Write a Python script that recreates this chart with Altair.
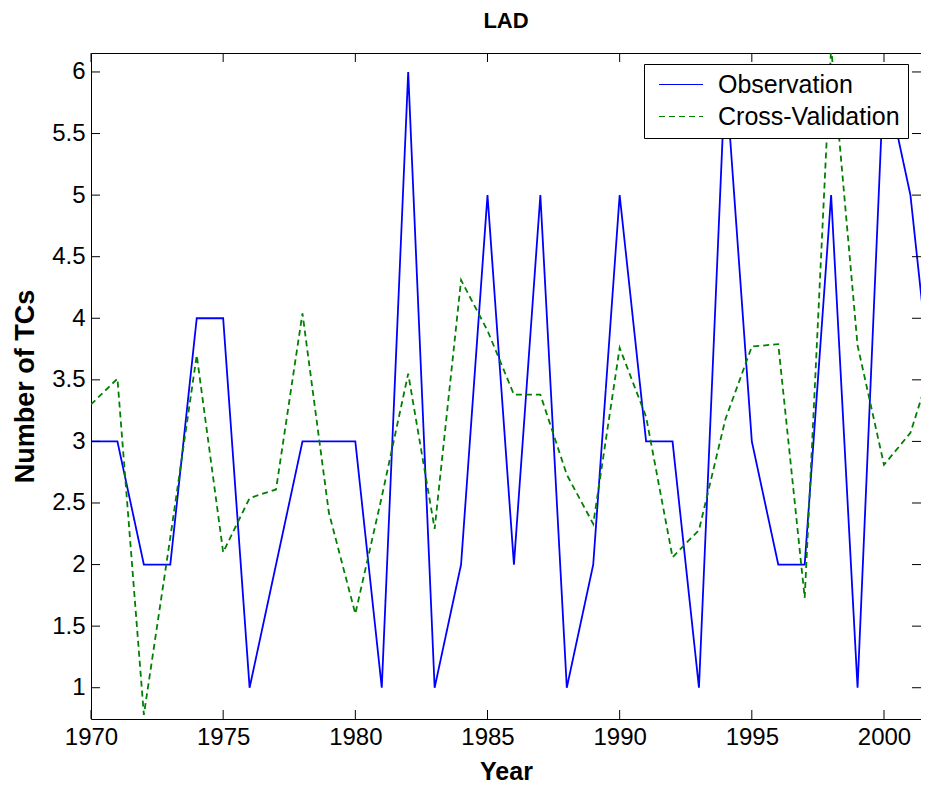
import altair as alt
import pandas as pd

# ---- data ----
years = list(range(1970, 2003))
observation = [3, 3, 2, 2, 4, 4, 1, 2, 3, 3, 3, 1, 6, 1, 2, 5, 2, 5, 1, 2, 5,
               3, 3, 1, 6, 3, 2, 2, 5, 1, 6, 5, 3]
cross_validation = [3.30, 3.51, 0.78, 2.22, 3.70, 2.10, 2.54, 2.61, 4.04, 2.42,
                    1.60, 2.55, 3.55, 2.29, 4.31, 3.90, 3.38, 3.38, 2.73, 2.33,
                    3.76, 3.20, 2.06, 2.28, 3.18, 3.77, 3.79, 1.73, 6.20, 3.78,
                    2.81, 3.07, 3.75]
series_names = ["Observation", "Cross-Validation"]
series_colors = ["#0000ff", "#008000"]
x_ticks = [1970, 1975, 1980, 1985, 1990, 1995, 2000]
y_ticks = [1, 1.5, 2, 2.5, 3, 3.5, 4, 4.5, 5, 5.5, 6]
x_domain = [1970, 2001.40]
y_domain = [0.746, 6.154]

FONT = "Liberation Sans"
W, H = 830, 666
TL = 9

df = pd.concat([
    pd.DataFrame({"year": years, "value": observation, "series": series_names[0]}),
    pd.DataFrame({"year": years, "value": cross_validation, "series": series_names[1]}),
])

xscale = alt.Scale(domain=x_domain, nice=False, zero=False)
yscale = alt.Scale(domain=y_domain, nice=False, zero=False)

legend = alt.Legend(
    orient="none", legendX=553, legendY=11,
    symbolType="stroke", symbolSize=1936, symbolStrokeWidth=1.2,
    clipHeight=25,
    labelFontSize=25, labelFont=FONT, labelColor="black", labelLimit=400,
    labelExpr="datum.label + '\u00a0\u00a0\u00a0\u00a0'",
    padding=8, symbolOffset=6, labelOffset=14, rowPadding=6,
    strokeColor="black", fillColor="white",
)

xaxis = alt.Axis(values=x_ticks, format="d", title="Year",
                 domain=False, ticks=False, grid=False, labelFlush=False,
                 labelFont=FONT, labelFontSize=24, labelColor="black",
                 labelPadding=6, titleFont=FONT, titleFontSize=25,
                 titleFontWeight="bold", titleColor="black", titlePadding=10)
yaxis = alt.Axis(values=y_ticks, format="~g", title="Number of TCs",
                 domain=False, ticks=False, grid=False, labelFlush=False,
                 labelFont=FONT, labelFontSize=24, labelColor="black",
                 labelPadding=6, titleFont=FONT, titleFontSize=27,
                 titleFontWeight="bold", titleColor="black", titlePadding=12)

lines = alt.Chart(df).mark_line(clip=True, strokeWidth=1.8).encode(
    x=alt.X("year:Q", scale=xscale, axis=xaxis),
    y=alt.Y("value:Q", scale=yscale, axis=yaxis),
    color=alt.Color("series:N", title=None,
                    scale=alt.Scale(domain=series_names, range=series_colors),
                    legend=legend),
    strokeDash=alt.StrokeDash("series:N", title=None,
                              scale=alt.Scale(domain=series_names, range=[[1, 0], [6, 4]]),
                              legend=legend),
)

xt = pd.DataFrame({"year": x_ticks})
yt = pd.DataFrame({"value": y_ticks})

bottom_ticks = alt.Chart(xt).mark_rule(color="black", strokeWidth=1).encode(
    x=alt.X("year:Q", scale=xscale, axis=xaxis),
    y=alt.value(H), y2=alt.value(H - TL))
top_ticks = alt.Chart(xt).mark_rule(color="black", strokeWidth=1).encode(
    x=alt.X("year:Q", scale=xscale, axis=xaxis),
    y=alt.value(0), y2=alt.value(TL))
left_ticks = alt.Chart(yt).mark_rule(color="black", strokeWidth=1).encode(
    y=alt.Y("value:Q", scale=yscale, axis=yaxis),
    x=alt.value(0), x2=alt.value(TL))
right_ticks = alt.Chart(yt).mark_rule(color="black", strokeWidth=1).encode(
    y=alt.Y("value:Q", scale=yscale, axis=yaxis),
    x=alt.value(W), x2=alt.value(W - TL))

chart = alt.layer(lines, bottom_ticks, top_ticks, left_ticks, right_ticks).properties(
    width=W, height=H,
    title=alt.Title("LAD", font=FONT, fontSize=22, fontWeight="bold",
                    color="black", anchor="middle", offset=20),
    padding={"left": 83, "top": 45, "right": 0, "bottom": 66},
    autosize=alt.AutoSizeParams(type="none"),
    background="white",
).configure_view(stroke="black", strokeWidth=1)

chart.save("out.html", embed_options={"renderer": "svg", "actions": False})
